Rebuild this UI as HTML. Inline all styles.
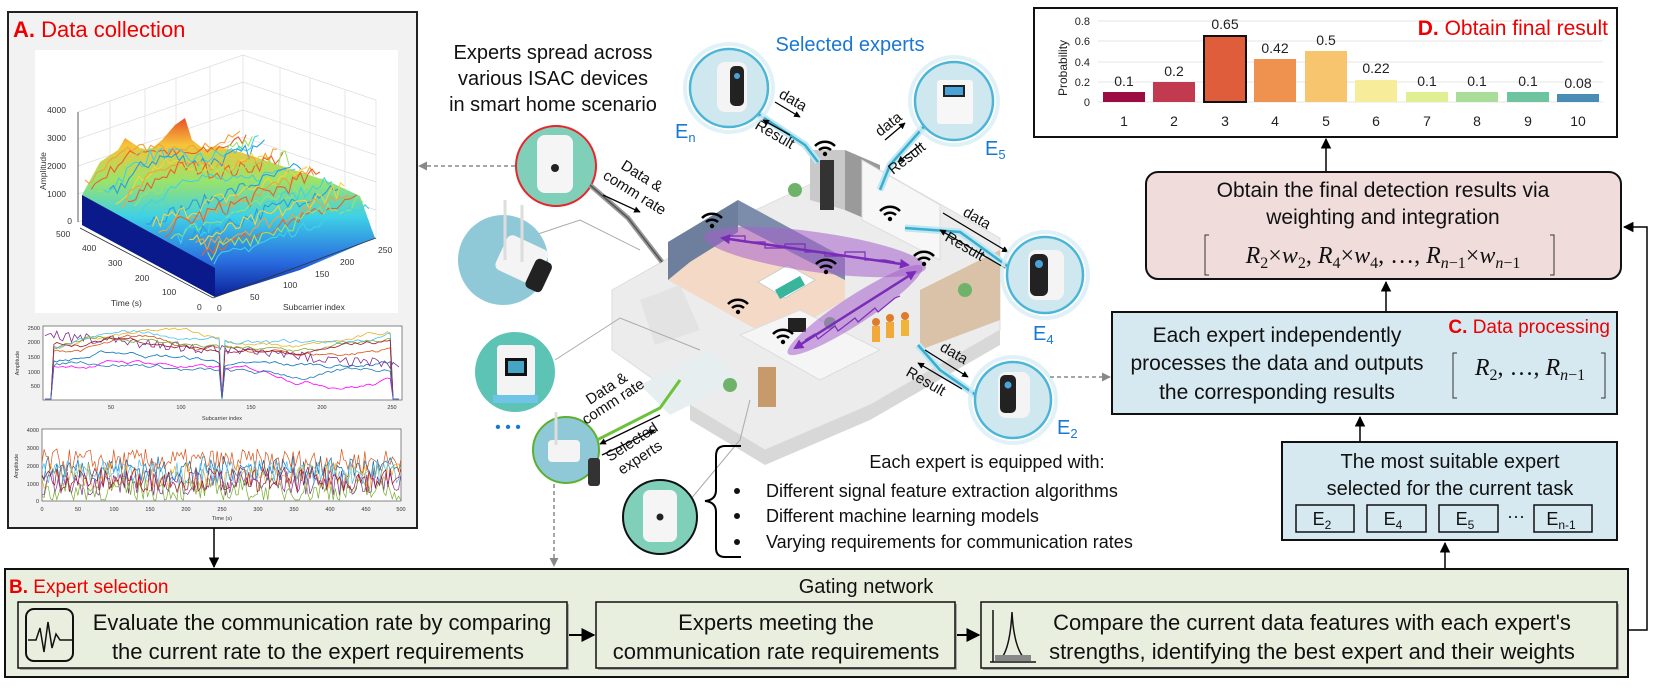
<!DOCTYPE html>
<html><head><meta charset="utf-8"><style>
html,body{margin:0;padding:0;background:#fff;}
svg{display:block;font-family:"Liberation Sans",Arial,sans-serif;}
</style></head><body>
<svg id="s" width="1661" height="692" viewBox="0 0 1661 692" xmlns="http://www.w3.org/2000/svg">
<defs>
<linearGradient id="surf" x1="0" y1="0" x2="0" y2="1">
<stop offset="0" stop-color="#e8502a"/><stop offset="0.15" stop-color="#f6c33a"/><stop offset="0.35" stop-color="#9be36a"/><stop offset="0.55" stop-color="#3fd1e6"/><stop offset="0.8" stop-color="#2a6de0"/><stop offset="1" stop-color="#0b1f96"/>
</linearGradient>
<marker id="ah" viewBox="0 0 10 10" refX="9" refY="5" markerWidth="7" markerHeight="7" orient="auto-start-reverse"><path d="M0,0 L10,5 L0,10 z" fill="#000"/></marker>
<marker id="ahg" viewBox="0 0 10 10" refX="9" refY="5" markerWidth="6" markerHeight="6" orient="auto-start-reverse"><path d="M0,0 L10,5 L0,10 z" fill="#888"/></marker>
<marker id="ahs" viewBox="0 0 10 10" refX="9" refY="5" markerWidth="5" markerHeight="5" orient="auto"><path d="M0,0 L10,5 L0,10 z" fill="#000"/></marker>
<marker id="ahp" viewBox="0 0 10 10" refX="8" refY="5" markerWidth="4" markerHeight="4" orient="auto-start-reverse"><path d="M0,0 L10,5 L0,10 z" fill="#7a2cb8"/></marker>
<g id="wifi"><path d="M-10,-4 A14,14 0 0 1 10,-4" fill="none" stroke="#000" stroke-width="2.5"/><path d="M-6,0 A9,9 0 0 1 6,0" fill="none" stroke="#000" stroke-width="2.5"/><circle cx="0" cy="4" r="2.2"/></g>
</defs>

<!-- Panel A -->
<rect x="8" y="12" width="409" height="516" fill="#f2f2f2" stroke="#222" stroke-width="2"/>
<text x="13" y="37" font-size="22" fill="#e00"><tspan font-weight="bold">A.</tspan> Data collection</text>
<rect x="35" y="50" width="363" height="263" fill="#fff"/>
<g stroke="#ddd" stroke-width="0.7" fill="none">
<path d="M78,112 L243,55 L376,100 L376,240 M243,55 L243,165 M78,222 L243,165 L376,210 M110,101 L110,210 M145,89 L145,198 M176,78 L176,187 M210,66 L210,176 M280,67 L280,177 M310,78 L310,188 M345,90 L345,200 M78,139 L243,82 L376,127 M78,166 L243,110 L376,155 M78,194 L243,137 L376,182"/>
</g>
<path d="M82,195 L100,162 L118,150 L125,138 L140,148 L150,150 L162,140 L175,125 L185,118 L192,140 L205,150 L215,146 L240,152 L270,162 L300,172 L330,182 L360,196 L372,230 L375,238 L300,270 L215,297 L82,225 Z" fill="url(#surf)"/>
<path d="M82,195 L215,268 L215,297 L82,225 Z" fill="#0a1a8a"/>
<g id="surfnoise"></g>
<g stroke="#333" stroke-width="0.8" fill="none"><path d="M78,112 L78,222 M80,228 L213,298 L376,238"/></g>
<g font-size="8.5" fill="#333">
<text x="66" y="113" text-anchor="end">4000</text><text x="66" y="141" text-anchor="end">3000</text><text x="66" y="169" text-anchor="end">2000</text><text x="66" y="197" text-anchor="end">1000</text><text x="72" y="224" text-anchor="end">0</text>
<text x="56" y="237">500</text><text x="82" y="251">400</text><text x="108" y="266">300</text><text x="135" y="281">200</text><text x="162" y="295">100</text><text x="197" y="310">0</text>
<text x="217" y="311">0</text><text x="250" y="300">50</text><text x="283" y="288">100</text><text x="315" y="277">150</text><text x="340" y="265">200</text><text x="378" y="253">250</text>
<text x="111" y="306">Time (s)</text><text x="283" y="310">Subcarrier index</text>
<text transform="translate(46,190) rotate(-90)">Amplitude</text>
</g>
<!-- plot 2 -->
<rect x="43" y="326" width="359" height="74" fill="#fff" stroke="#555" stroke-width="0.7"/>
<g id="p2"></g>
<g font-size="5.5" fill="#333" text-anchor="end"><text x="40" y="330">2500</text><text x="40" y="344">2000</text><text x="40" y="359">1500</text><text x="40" y="374">1000</text><text x="40" y="388">500</text></g>
<g font-size="5.5" fill="#333" text-anchor="middle"><text x="111" y="409">50</text><text x="181" y="409">100</text><text x="251" y="409">150</text><text x="322" y="409">200</text><text x="392" y="409">250</text><text x="222" y="420">Subcarrier index</text><text transform="translate(19,363) rotate(-90)">Amplitude</text></g>
<!-- plot 3 -->
<rect x="42" y="429" width="359" height="72" fill="#fff" stroke="#555" stroke-width="0.7"/>
<g id="p3"></g>
<g font-size="5.5" fill="#333" text-anchor="end"><text x="39" y="432">4000</text><text x="39" y="450">3000</text><text x="39" y="468">2000</text><text x="39" y="486">1000</text><text x="39" y="503">0</text></g>
<g font-size="5.5" fill="#333" text-anchor="middle"><text x="42" y="511">0</text><text x="78" y="511">50</text><text x="114" y="511">100</text><text x="150" y="511">150</text><text x="186" y="511">200</text><text x="222" y="511">250</text><text x="258" y="511">300</text><text x="294" y="511">350</text><text x="330" y="511">400</text><text x="366" y="511">450</text><text x="401" y="511">500</text><text x="222" y="520">Time (s)</text><text transform="translate(18,466) rotate(-90)">Amplitude</text></g>

<line x1="214" y1="528" x2="214" y2="567" stroke="#000" stroke-width="1.5" marker-end="url(#ah)"/>

<g font-size="20" text-anchor="middle" fill="#111">
<text x="553" y="59">Experts spread across</text><text x="553" y="85">various ISAC devices</text><text x="553" y="111">in smart home scenario</text>
</g>
<text x="850" y="51" font-size="20" text-anchor="middle" fill="#1a78d2">Selected experts</text>

<line x1="515" y1="166" x2="419" y2="166" stroke="#888" stroke-width="1.5" stroke-dasharray="4,3" marker-end="url(#ahg)"/>

<g>
<polygon points="612,290 745,215 862,160 1000,238 1000,330 870,405 765,450 690,405 612,350" fill="#ececec" stroke="#ddd"/>
<polygon points="690,405 765,450 870,405 1000,330 1000,345 870,420 765,465 690,420" fill="#d8d8d8"/>
<polygon points="668,242 738,200 845,258 845,300 775,340 668,280" fill="#f3d9c6"/>
<polygon points="668,242 738,200 738,232 690,262 668,280" fill="#6e7f9e"/>
<polygon points="738,200 845,258 845,280 738,225" fill="#7c8cab"/>
<polygon points="758,282 788,265 815,280 785,298" fill="#fff" stroke="#ccc"/>
<polygon points="775,290 800,276 805,285 780,299" fill="#38b59a"/>
<polygon points="845,150 880,165 880,225 845,210" fill="#9a9a9a"/>
<polygon points="810,150 845,150 845,210 810,200" fill="#c9c9c9"/>
<rect x="820" y="160" width="14" height="50" fill="#333"/>
<polygon points="862,160 940,205 940,260 862,220" fill="#f7f7f7" stroke="#ddd"/>
<polygon points="920,290 1000,250 1000,320 920,350" fill="#d9c2a8"/>
<polygon points="740,335 800,310 880,350 820,380" fill="#f5f5f5" stroke="#ddd"/>
<polygon points="640,300 680,285 700,330 655,345" fill="#e3e3e3"/>
<polygon points="640,385 710,350 740,380 670,415" fill="#e6eef0"/>
<rect x="758" y="367" width="18" height="40" fill="#c69a6b"/>
<rect x="788" y="318" width="18" height="14" fill="#222"/>
<circle cx="730" cy="385" r="7" fill="#6fb36a"/><circle cx="795" cy="190" r="7" fill="#6fb36a"/><circle cx="965" cy="290" r="7" fill="#6fb36a"/><circle cx="830" cy="323" r="6" fill="#6fb36a"/>
<circle cx="876" cy="322" r="4" fill="#e07b2a"/><rect x="872" y="326" width="8" height="16" fill="#f2a93b"/>
<circle cx="890" cy="318" r="4" fill="#e07b2a"/><rect x="886" y="322" width="8" height="16" fill="#f2a93b"/>
<circle cx="905" cy="316" r="4" fill="#e07b2a"/><rect x="901" y="320" width="8" height="16" fill="#f0b43b"/>
</g>
<ellipse cx="815" cy="252" rx="112" ry="20" transform="rotate(8 815 252)" fill="#a560cc" opacity="0.55"/>
<line x1="722" y1="238" x2="908" y2="265" stroke="#7a2cb8" stroke-width="2.5" marker-start="url(#ahp)" marker-end="url(#ahp)"/>
<path d="M730,236 L745,236 L745,242 L765,242 L765,248 L785,248 L785,244 L805,244 L805,252 L825,252 L825,256 L845,256 L845,252 L865,252 L865,260 L885,260 L895,262" fill="none" stroke="#7a2cb8" stroke-width="1.2"/>
<ellipse cx="855" cy="310" rx="80" ry="14" transform="rotate(-33 855 310)" fill="#a560cc" opacity="0.55"/>
<line x1="795" y1="348" x2="915" y2="272" stroke="#7a2cb8" stroke-width="2.5" marker-start="url(#ahp)" marker-end="url(#ahp)"/>
<path d="M805,340 L815,334 L818,339 L835,326 L838,331 L855,318 L858,322 L875,308 L878,312 L895,298 L900,296" fill="none" stroke="#7a2cb8" stroke-width="1.2"/>
<g>
<use href="#wifi" x="712" y="222"/><use href="#wifi" x="825" y="150"/><use href="#wifi" x="890" y="215"/><use href="#wifi" x="826" y="268"/><use href="#wifi" x="738" y="308"/><use href="#wifi" x="783" y="338"/><use href="#wifi" x="924" y="260"/>
</g>

<g stroke="#aaa" stroke-width="1" fill="none"><path d="M535,235 L580,220 L640,250"/><path d="M555,360 L620,318 L700,350"/><path d="M690,500 L740,440 L750,400"/></g>

<circle cx="503" cy="260" r="45" fill="#8fc9d8"/>
<rect x="500" y="240" width="45" height="38" rx="6" fill="#f4f4f4" transform="rotate(25 520 258)"/><rect x="530" y="260" width="18" height="32" rx="5" fill="#222" transform="rotate(25 540 275)"/>
<line x1="505" y1="200" x2="505" y2="260" stroke="#ddd" stroke-width="3"/><line x1="522" y1="205" x2="522" y2="262" stroke="#ddd" stroke-width="3"/>
<circle cx="515" cy="372" r="40" fill="#5cc3b5"/>
<rect x="497" y="345" width="38" height="52" rx="4" fill="#f4f4f4"/><rect x="505" y="358" width="22" height="18" fill="#111"/><rect x="508" y="361" width="16" height="12" fill="#46a5c4"/>
<rect x="493" y="395" width="45" height="8" fill="#6fc4e8"/>
<text x="508" y="432" font-size="16" fill="#1a78d2" text-anchor="middle">• • •</text>

<circle cx="556" cy="166" r="40" fill="#80cfb9" stroke="#e8252a" stroke-width="2"/>
<rect x="537" y="135" width="36" height="58" rx="8" fill="#f5f5f5"/><circle cx="555" cy="168" r="4" fill="#222"/>
<path d="M590,185 L628,218 L662,262" fill="none" stroke="#999" stroke-width="5"/>
<path d="M590,185 L628,218 L662,262" fill="none" stroke="#555" stroke-width="1.5"/>
<line x1="603" y1="195" x2="640" y2="212" stroke="#000" stroke-width="1.3" marker-end="url(#ahs)"/>
<g font-size="15" fill="#111"><text transform="translate(620,168) rotate(32)">Data &amp;</text><text transform="translate(602,178) rotate(32)">comm rate</text></g>

<circle cx="566" cy="450" r="33" fill="#8fc9d8" stroke="#5bb02e" stroke-width="2"/>
<rect x="548" y="440" width="32" height="22" rx="4" fill="#f4f4f4"/><line x1="556" y1="412" x2="556" y2="445" stroke="#ddd" stroke-width="3"/>
<rect x="588" y="458" width="12" height="28" rx="3" fill="#333"/>
<path d="M597,440 L660,408 L680,380" fill="none" stroke="#6cc23a" stroke-width="3"/>
<line x1="660" y1="415" x2="600" y2="444" stroke="#000" stroke-width="1.3" marker-end="url(#ahs)"/>
<line x1="602" y1="455" x2="655" y2="430" stroke="#000" stroke-width="1.3" marker-end="url(#ahs)"/>
<g font-size="15" fill="#111"><text transform="translate(590,405) rotate(-33)">Data &amp;</text><text transform="translate(586,425) rotate(-33)">comm rate</text><text transform="translate(610,462) rotate(-33)">Selected</text><text transform="translate(622,475) rotate(-33)">experts</text></g>
<line x1="554" y1="484" x2="554" y2="566" stroke="#888" stroke-width="1.5" stroke-dasharray="4,3" marker-end="url(#ahg)"/>

<circle cx="660" cy="517" r="37" fill="#80cfb9" stroke="#111" stroke-width="2"/>
<rect x="643" y="490" width="34" height="52" rx="7" fill="#f5f5f5"/><circle cx="660" cy="517" r="3.5" fill="#222"/>
<path d="M741,446 L725,446 Q716,446 716,456 L716,490 Q716,500 705,501 Q716,502 716,512 L716,548 Q716,557 725,557 L741,557" fill="none" stroke="#000" stroke-width="2"/>
<g font-size="18" fill="#111">
<text x="987" y="468" text-anchor="middle">Each expert is equipped with:</text>
<circle cx="737" cy="491" r="3"/><circle cx="737" cy="516" r="3"/><circle cx="737" cy="542" r="3"/>
<text x="766" y="497">Different signal feature extraction algorithms</text>
<text x="766" y="522">Different machine learning models</text>
<text x="766" y="548">Varying requirements for communication rates</text>
</g>

<g fill="none" stroke="#bfe7f2" stroke-width="7"><path d="M755,112 L805,145 L818,162"/><path d="M928,122 L890,165 L880,190"/><path d="M1010,268 L960,232 L905,228"/><path d="M980,398 L940,370 L918,345"/></g>
<g fill="none" stroke="#3aaed0" stroke-width="2.5"><path d="M755,112 L805,145 L818,162"/><path d="M928,122 L890,165 L880,190"/><path d="M1010,268 L960,232 L905,228"/><path d="M980,398 L940,370 L918,345"/></g>
<g stroke="#000" stroke-width="1.3">
<line x1="775" y1="102" x2="800" y2="117" marker-end="url(#ahs)"/><line x1="790" y1="135" x2="763" y2="120" marker-end="url(#ahs)"/>
<line x1="885" y1="140" x2="905" y2="123" marker-end="url(#ahs)"/><line x1="920" y1="145" x2="898" y2="162" marker-end="url(#ahs)"/>
<line x1="943" y1="213" x2="1008" y2="252" marker-end="url(#ahs)"/><line x1="1005" y1="268" x2="940" y2="230" marker-end="url(#ahs)"/>
<line x1="925" y1="350" x2="968" y2="377" marker-end="url(#ahs)"/><line x1="962" y1="389" x2="918" y2="363" marker-end="url(#ahs)"/>
</g>
<g font-size="15" fill="#111">
<text transform="translate(778,97) rotate(30)">data</text><text transform="translate(754,128) rotate(30)">Result</text>
<text transform="translate(880,137) rotate(-38)">data</text><text transform="translate(893,175) rotate(-38)">Result</text>
<text transform="translate(962,215) rotate(30)">data</text><text transform="translate(944,240) rotate(30)">Result</text>
<text transform="translate(939,350) rotate(30)">data</text><text transform="translate(905,375) rotate(30)">Result</text>
</g>
<g stroke="#4bb5d6" stroke-width="2.5" fill="#cfe8f0">
<circle cx="729" cy="88" r="39"/><circle cx="954" cy="101" r="39"/><circle cx="1045" cy="275" r="38"/><circle cx="1013" cy="400" r="38"/>
</g>
<g fill="none" stroke="#d8eef6" stroke-width="4" opacity="0.8"><circle cx="729" cy="88" r="44"/><circle cx="954" cy="101" r="44"/><circle cx="1045" cy="275" r="43"/><circle cx="1013" cy="400" r="43"/></g>
<rect x="717" y="62" width="30" height="50" rx="8" fill="#f4f4f4"/><rect x="730" y="66" width="14" height="40" rx="5" fill="#222"/><circle cx="737" cy="76" r="3" fill="#4aa3d8"/>
<rect x="937" y="80" width="36" height="44" rx="3" fill="#f7f7f7"/><rect x="943" y="85" width="22" height="12" fill="#222"/><rect x="945" y="87" width="18" height="8" fill="#4aa3d8"/>
<rect x="1028" y="250" width="36" height="50" rx="8" fill="#f4f4f4"/><rect x="1030" y="254" width="18" height="42" rx="6" fill="#222"/><circle cx="1039" cy="264" r="4" fill="#4aa3d8"/>
<rect x="998" y="372" width="32" height="46" rx="8" fill="#f4f4f4"/><rect x="1000" y="375" width="16" height="38" rx="5" fill="#222"/><circle cx="1008" cy="385" r="3.5" fill="#4aa3d8"/>
<g font-size="20" fill="#1a78d2">
<text x="675" y="138">E<tspan font-size="13" dy="4">n</tspan></text>
<text x="985" y="155">E<tspan font-size="13" dy="4">5</tspan></text>
<text x="1033" y="340">E<tspan font-size="13" dy="4">4</tspan></text>
<text x="1057" y="434">E<tspan font-size="13" dy="4">2</tspan></text>
</g>
<line x1="1050" y1="377" x2="1110" y2="377" stroke="#888" stroke-width="1.5" stroke-dasharray="4,3" marker-end="url(#ahg)"/>

<rect x="1034" y="8" width="583" height="129" fill="#fff" stroke="#111" stroke-width="2"/>
<g stroke="#e4e4e4" stroke-width="1"><line x1="1098" y1="21" x2="1603" y2="21"/><line x1="1098" y1="41" x2="1603" y2="41"/><line x1="1098" y1="62" x2="1603" y2="62"/><line x1="1098" y1="82" x2="1603" y2="82"/><line x1="1098" y1="102" x2="1603" y2="102"/></g>
<g font-size="11" fill="#222" text-anchor="end"><text x="1090" y="25">0.8</text><text x="1090" y="45">0.6</text><text x="1090" y="66">0.4</text><text x="1090" y="86">0.2</text><text x="1090" y="106">0</text></g>
<text transform="translate(1067,96) rotate(-90)" font-size="12" fill="#222">Probability</text>
<g>
<rect x="1103" y="92" width="42" height="10" fill="#9b0c43"/>
<rect x="1153" y="82" width="42" height="20" fill="#c23a50"/>
<rect x="1204" y="36" width="42" height="66" fill="#e05d3c" stroke="#111" stroke-width="2"/>
<rect x="1254" y="59" width="42" height="43" fill="#f0924f"/>
<rect x="1305" y="51" width="42" height="51" fill="#f6c56d"/>
<rect x="1355" y="80" width="42" height="22" fill="#f6ec9a"/>
<rect x="1406" y="92" width="42" height="10" fill="#e1ef93"/>
<rect x="1456" y="92" width="42" height="10" fill="#aadd9a"/>
<rect x="1507" y="92" width="42" height="10" fill="#6dc49e"/>
<rect x="1557" y="94" width="42" height="8" fill="#4a8cb4"/>
</g>
<g font-size="14" fill="#222" text-anchor="middle">
<text x="1124" y="86">0.1</text><text x="1174" y="76">0.2</text><text x="1225" y="29">0.65</text><text x="1275" y="53">0.42</text><text x="1326" y="45">0.5</text><text x="1376" y="73">0.22</text><text x="1427" y="86">0.1</text><text x="1477" y="86">0.1</text><text x="1528" y="86">0.1</text><text x="1578" y="88">0.08</text>
<text x="1124" y="126">1</text><text x="1174" y="126">2</text><text x="1225" y="126">3</text><text x="1275" y="126">4</text><text x="1326" y="126">5</text><text x="1376" y="126">6</text><text x="1427" y="126">7</text><text x="1477" y="126">8</text><text x="1528" y="126">9</text><text x="1578" y="126">10</text>
</g>
<text x="1608" y="35" font-size="21" fill="#e00" text-anchor="end"><tspan font-weight="bold">D.</tspan> Obtain  final result</text>
<line x1="1326" y1="172" x2="1326" y2="139" stroke="#000" stroke-width="1.5" marker-end="url(#ah)"/>

<rect x="1146" y="172" width="475" height="107" rx="12" fill="#f0dcdb" stroke="#111" stroke-width="2"/>
<g font-size="21" fill="#111" text-anchor="middle"><text x="1383" y="197">Obtain the final detection results via</text><text x="1383" y="224">weighting and integration</text></g>
<g font-family="'Liberation Serif',serif" font-size="24" fill="#111">
<text x="1383" y="263" text-anchor="middle"><tspan font-style="italic">R</tspan><tspan font-size="16" dy="5">2</tspan><tspan dy="-5">×</tspan><tspan font-style="italic">w</tspan><tspan font-size="16" dy="5">2</tspan><tspan dy="-5">, </tspan><tspan font-style="italic">R</tspan><tspan font-size="16" dy="5">4</tspan><tspan dy="-5">×</tspan><tspan font-style="italic">w</tspan><tspan font-size="16" dy="5">4</tspan><tspan dy="-5">, …, </tspan><tspan font-style="italic">R</tspan><tspan font-size="16" dy="5" font-style="italic">n</tspan><tspan font-size="16">−1</tspan><tspan dy="-5">×</tspan><tspan font-style="italic">w</tspan><tspan font-size="16" dy="5" font-style="italic">n</tspan><tspan font-size="16">−1</tspan></text>
</g>
<path d="M1209,235 L1205,235 L1205,275 L1209,275 M1550,235 L1554,235 L1554,275 L1550,275" fill="none" stroke="#333" stroke-width="1"/>
<line x1="1386" y1="312" x2="1386" y2="282" stroke="#000" stroke-width="1.5" marker-end="url(#ah)"/>

<rect x="1112" y="312" width="505" height="102" fill="#d6e9f1" stroke="#111" stroke-width="2"/>
<text x="1610" y="333" font-size="19" fill="#e00" text-anchor="end"><tspan font-weight="bold">C.</tspan> Data processing</text>
<g font-size="21" fill="#111" text-anchor="middle"><text x="1277" y="342">Each expert independently</text><text x="1277" y="370">processes the data and outputs</text><text x="1277" y="399">the corresponding results</text></g>
<text x="1530" y="375" font-family="'Liberation Serif',serif" font-size="24" text-anchor="middle" fill="#111"><tspan font-style="italic">R</tspan><tspan font-size="16" dy="5">2</tspan><tspan dy="-5">, …, </tspan><tspan font-style="italic">R</tspan><tspan font-size="16" dy="5" font-style="italic">n</tspan><tspan font-size="16">−1</tspan></text>
<path d="M1457,353 L1453,353 L1453,398 L1457,398 M1601,353 L1605,353 L1605,398 L1601,398" fill="none" stroke="#333" stroke-width="1"/>
<line x1="1360" y1="442" x2="1360" y2="417" stroke="#000" stroke-width="1.5" marker-end="url(#ah)"/>

<rect x="1282" y="442" width="335" height="98" fill="#d6e9f1" stroke="#111" stroke-width="2"/>
<g font-size="20" fill="#111" text-anchor="middle"><text x="1450" y="468">The most suitable expert</text><text x="1450" y="495">selected for the current task</text></g>
<g fill="none" stroke="#111" stroke-width="1.5"><rect x="1296" y="505" width="58" height="27"/><rect x="1367" y="505" width="59" height="27"/><rect x="1439" y="505" width="59" height="27"/><rect x="1534" y="505" width="58" height="27"/></g>
<g font-size="18" fill="#111" text-anchor="middle">
<text x="1322" y="525">E<tspan font-size="12" dy="4">2</tspan></text><text x="1393" y="525">E<tspan font-size="12" dy="4">4</tspan></text><text x="1465" y="525">E<tspan font-size="12" dy="4">5</tspan></text><text x="1516" y="522">···</text><text x="1561" y="525">E<tspan font-size="12" dy="4">n-1</tspan></text>
</g>
<line x1="1445" y1="569" x2="1445" y2="543" stroke="#000" stroke-width="1.5" marker-end="url(#ah)"/>

<rect x="5" y="569" width="1623" height="108" fill="#e9efdf" stroke="#111" stroke-width="2"/>
<text x="9" y="593" font-size="19" fill="#e00"><tspan font-weight="bold">B.</tspan> Expert selection</text>
<text x="866" y="593" font-size="20" fill="#111" text-anchor="middle">Gating network</text>
<g fill="#e9efdf" stroke="#111" stroke-width="1.5">
<rect x="20" y="604" width="549" height="66" fill="#aaa" stroke="none"/><rect x="18" y="602" width="549" height="66"/>
<rect x="598" y="604" width="359" height="66" fill="#aaa" stroke="none"/><rect x="596" y="602" width="359" height="66"/>
<rect x="983" y="604" width="636" height="66" fill="#aaa" stroke="none"/><rect x="981" y="602" width="636" height="66"/>
</g>
<rect x="26" y="609" width="47" height="52" rx="8" fill="none" stroke="#111" stroke-width="2"/>
<path d="M28,640 L36,640 L40,628 L44,652 L48,622 L52,648 L56,634 L60,640 L72,640" fill="none" stroke="#111" stroke-width="1.5"/>
<g font-size="22" fill="#111" text-anchor="middle">
<text x="322" y="630">Evaluate the communication rate by comparing</text><text x="318" y="659">the current rate to the expert requirements</text>
<text x="776" y="630">Experts meeting the</text><text x="776" y="659">communication rate requirements</text>
<text x="1312" y="630">Compare the current data features with each expert's</text><text x="1312" y="659">strengths, identifying the best expert and their weights</text>
</g>
<path d="M990,662 L1036,662 M993,610 L993,662 M1000,660 Q1010,650 1012,612 Q1014,650 1026,660" fill="none" stroke="#111" stroke-width="1.5"/>
<rect x="995" y="655" width="36" height="6" fill="#888"/>
<line x1="569" y1="635" x2="594" y2="635" stroke="#000" stroke-width="2" marker-end="url(#ah)"/>
<line x1="957" y1="635" x2="979" y2="635" stroke="#000" stroke-width="2" marker-end="url(#ah)"/>

<path d="M1628,630 L1647,630 L1647,227 L1624,227" fill="none" stroke="#000" stroke-width="1.5" marker-end="url(#ah)"/>
</svg>
<script>
(function(){
var seed=7;function r(){seed=(seed*16807)%2147483647;return (seed-1)/2147483646;}
var ns="http://www.w3.org/2000/svg";
function pl(g,pts,c,w){var p=document.createElementNS(ns,"polyline");p.setAttribute("points",pts.join(" "));p.setAttribute("fill","none");p.setAttribute("stroke",c);p.setAttribute("stroke-width",w);document.getElementById(g).appendChild(p);}
var cols=["#0072bd","#d95319","#edb120","#7e2f8e","#77ac30","#4dbeee","#a2142f","#ff00ff","#1f77b4"];
var sc=["#f2a23a","#e8612c","#9be36a","#3fd1e6","#2a9de0","#f6d43a"];
for(var k=0;k<22;k++){var pts=[];var t=k/22;var x0=85+t*135,y0=195+t*73;var amp=10+r()*8;
for(var i=0;i<=40;i++){var u=i/40;var x=x0+u*155,y=y0-u*55 - (r()*amp) - (k<10?25*Math.exp(-Math.pow((u-0.3)*4,2)):0);pts.push(x.toFixed(1)+","+y.toFixed(1));}
pl("surfnoise",pts,sc[k%sc.length],1.1);}
for(var c=0;c<9;c++){var pts=[];var base=0.3+r()*0.4;var v=base;
for(var i=0;i<=120;i++){var x=45+i*2.95;var s=i/120;var env=Math.sin(s*Math.PI*2)*0.15;v+= (r()-0.5)*0.06;v=Math.max(0.05,Math.min(1,v));
var yy=400-(v+env+0.2)*60;if(i<3||i==60||i>117)yy=399;if(c==3)yy=330+((r()*10)+s*30);pts.push(x.toFixed(1)+","+Math.max(327,Math.min(399,yy)).toFixed(1));}
pl("p2",pts,cols[c],0.8);}
for(var c=0;c<7;c++){var pts=[];var base=[0.45,0.55,0.35,0.25,0.15,0.4,0.3][c];
for(var i=0;i<=170;i++){var x=42+i*2.11;var yy=501-(base+(r()-0.5)*0.35)*72;pts.push(x.toFixed(1)+","+Math.max(430,Math.min(500,yy)).toFixed(1));}
pl("p3",pts,cols[c],0.7);}
})();
</script>
</body></html>
